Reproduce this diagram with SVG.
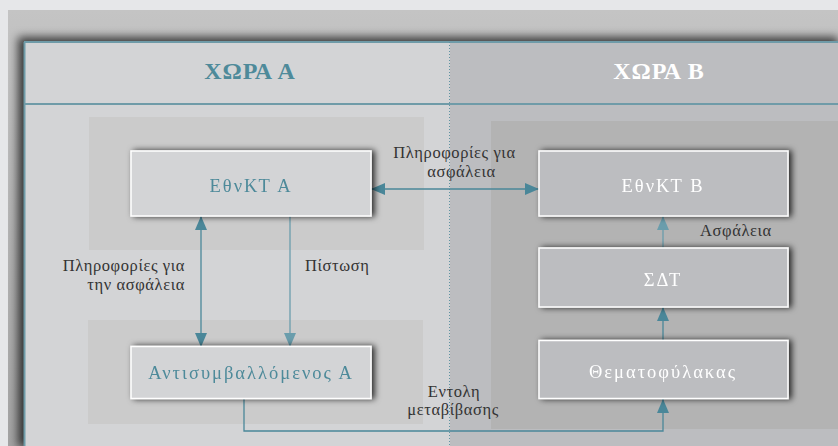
<svg xmlns="http://www.w3.org/2000/svg" width="838" height="446" viewBox="0 0 838 446">
<defs>
<style>
.lbl{font-family:"Liberation Serif","DejaVu Serif",serif;font-size:16.5px;letter-spacing:0.6px;fill:#333}
.nt{font-family:"Liberation Serif","DejaVu Serif",serif;font-size:18.5px;letter-spacing:2px;text-anchor:middle}
.hd{font-family:"Liberation Serif","DejaVu Serif",serif;font-size:24px;font-weight:bold;letter-spacing:1px;text-anchor:middle}
.tA{fill:#4e8a9a}
.tB{fill:#ffffff}
.nodeA{fill:#d3d4d6;stroke:#ffffff;stroke-width:1.5}
.nodeB{fill:#bcbdc0;stroke:#ffffff;stroke-width:1.5}
.con{fill:none;stroke:#4a8799;stroke-width:1.3}
.conL{fill:none;stroke:#6a9dac;stroke-width:1.3}
.rule{stroke:#6f9ba8;stroke-width:2}
</style>
<linearGradient id="topg" x1="0" y1="0" x2="0" y2="1">
<stop offset="0" stop-color="#c4c4c4"/>
<stop offset="1" stop-color="#a3a3a3"/>
</linearGradient>
<filter id="fshadow" x="-5%" y="-15%" width="120%" height="130%">
<feGaussianBlur in="SourceAlpha" stdDeviation="5"/>
<feOffset dx="-6" dy="-5" result="b"/>
<feFlood flood-color="#000" flood-opacity="0.7"/>
<feComposite in2="b" operator="in"/>
<feMerge><feMergeNode/><feMergeNode in="SourceGraphic"/></feMerge>
</filter>
<filter id="nshadow" x="-10%" y="-30%" width="125%" height="160%">
<feGaussianBlur in="SourceAlpha" stdDeviation="3"/>
<feOffset dx="3" dy="0" result="b"/>
<feFlood flood-color="#000" flood-opacity="0.8"/>
<feComposite in2="b" operator="in"/>
<feMerge><feMergeNode/><feMergeNode in="SourceGraphic"/></feMerge>
</filter>
<marker id="ah" viewBox="0 0 14 12" refX="14" refY="6" markerWidth="14" markerHeight="12" markerUnits="userSpaceOnUse" orient="auto-start-reverse">
<path d="M0,0 L14,6 L0,12 z" fill="#4a8799"/>
</marker>
<marker id="ahL" viewBox="0 0 14 12" refX="14" refY="6" markerWidth="14" markerHeight="12" markerUnits="userSpaceOnUse" orient="auto-start-reverse">
<path d="M0,0 L14,6 L0,12 z" fill="#6a9dac"/>
</marker>
</defs>
<rect x="0" y="0" width="838" height="446" fill="#e6e7e9"/>
<rect x="8" y="10" width="830" height="436" fill="url(#topg)"/>
<g id="frame" filter="url(#fshadow)">
<rect x="24" y="42" width="426" height="410" fill="#d3d4d6"/>
<rect x="450" y="42" width="394" height="410" fill="#bcbdc0"/>
</g>
<line class="rule" x1="24" y1="42" x2="838" y2="42"/>
<line class="rule" x1="24" y1="104" x2="838" y2="104"/>
<line class="rule" x1="24.5" y1="42" x2="24.5" y2="446"/>
<g id="zones">
<rect x="89" y="117" width="335" height="133" fill="#cbcbcb"/>
<rect x="88" y="320" width="335" height="104" fill="#cbcbcb"/>
<rect x="491" y="121" width="347" height="308" fill="#b3b3b3"/>
</g>
<line x1="449.5" y1="42" x2="449.5" y2="446" stroke="#5f93a2" stroke-width="1" stroke-dasharray="1 2"/>
<text class="hd tA" x="250" y="79">ΧΩΡΑ Α</text>
<text class="hd tB" x="659" y="79">ΧΩΡΑ Β</text>
<g id="connectors">
<line class="con" x1="371" y1="189" x2="539" y2="189" marker-start="url(#ah)" marker-end="url(#ah)"/>
<line class="con" x1="201" y1="216" x2="201" y2="347" marker-start="url(#ah)" marker-end="url(#ah)"/>
<line class="conL" x1="290" y1="216" x2="290" y2="347" marker-end="url(#ahL)"/>
<line class="conL" x1="663" y1="248" x2="663" y2="216" marker-end="url(#ahL)"/>
<line class="con" x1="663" y1="340" x2="663" y2="307" marker-end="url(#ah)"/>
<path class="con" d="M244,399 V431 H663 V399" marker-end="url(#ah)"/>
<text class="lbl" x="454.5" y="158" text-anchor="middle">Πληροφορίες για</text>
<text class="lbl" x="461.5" y="176.5" text-anchor="middle">ασφάλεια</text>
<text class="lbl" x="185" y="271" text-anchor="end">Πληροφορίες για</text>
<text class="lbl" x="185" y="289.5" text-anchor="end">την ασφάλεια</text>
<text class="lbl" x="305" y="271">Πίστωση</text>
<text class="lbl" x="700" y="236">Ασφάλεια</text>
<text class="lbl" x="454" y="396.5" text-anchor="middle">Εντολη</text>
<text class="lbl" x="453" y="415" text-anchor="middle">μεταβίβασης</text>
</g>
<g id="nodeEthnKTA" filter="url(#nshadow)">
<rect class="nodeA" x="131" y="151" width="240" height="65"/>
<text class="nt tA" x="251" y="192">ΕθνΚΤ Α</text>
</g>
<g id="nodeAntisymvallomenosA" filter="url(#nshadow)">
<rect class="nodeA" x="131" y="346.5" width="240" height="52"/>
<text class="nt tA" x="251" y="379">Αντισυμβαλλόμενος Α</text>
</g>
<g id="nodeEthnKTB" filter="url(#nshadow)">
<rect class="nodeB" x="539" y="151" width="249" height="65"/>
<text class="nt tB" x="663" y="192">ΕθνΚΤ Β</text>
</g>
<g id="nodeSDT" filter="url(#nshadow)">
<rect class="nodeB" x="539" y="248" width="249" height="59"/>
<text class="nt tB" x="663" y="286">ΣΔΤ</text>
</g>
<g id="nodeThematofylakas" filter="url(#nshadow)">
<rect class="nodeB" x="539" y="340.5" width="249" height="58"/>
<text class="nt tB" x="663" y="378">Θεματοφύλακας</text>
</g>
</svg>
